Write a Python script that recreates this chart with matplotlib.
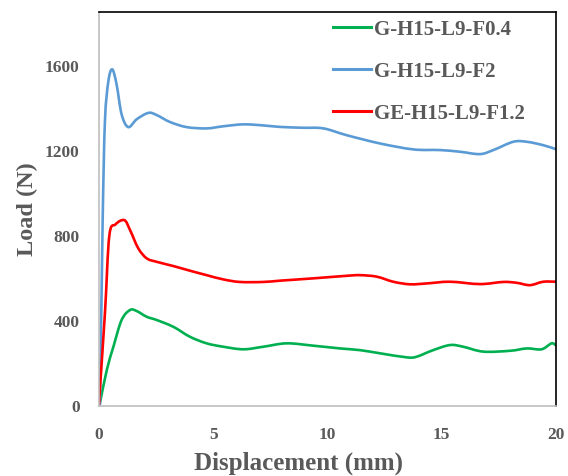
import matplotlib
matplotlib.use("Agg")
import matplotlib.pyplot as plt
from matplotlib.path import Path
from matplotlib.patches import PathPatch
from matplotlib.lines import Line2D

# Data (displacement mm, load N)
green_x = [0.0, 0.04, 0.34, 0.63, 0.99, 1.36, 1.65, 2.09, 2.52, 3.25, 3.98, 4.71, 5.44, 6.32, 7.19, 8.21,
           9.38, 10.55, 11.42, 12.3, 13.47, 13.9, 14.6, 15.36, 15.94, 16.82, 18.0, 18.72, 19.37, 19.81, 20.03]
green_y = [0, 14, 169, 279, 405, 452, 447, 420, 405, 373, 326, 295, 279, 267, 279, 295,
           284, 271, 263, 248, 229, 232, 262, 287, 279, 256, 260, 271, 267, 295, 282]

blue_x = [0.0, 0.04, 0.16, 0.26, 0.41, 0.58, 0.77, 0.99, 1.28, 1.65, 2.16, 2.52, 3.11, 3.84, 4.71, 5.44,
          6.32, 7.19, 7.92, 8.9, 9.82, 10.84, 12.3, 13.76, 14.92, 15.8, 16.67, 17.26, 18.13, 18.72, 19.44, 20.03]
blue_y = [0, 13, 872, 1341, 1529, 1585, 1514, 1373, 1313, 1350, 1380, 1370, 1337, 1313, 1307, 1317,
          1326, 1321, 1314, 1310, 1307, 1275, 1236, 1208, 1205, 1197, 1186, 1205, 1244, 1244, 1228, 1208]

red_x = [0.0, 0.01, 0.26, 0.45, 0.72, 1.11, 1.36, 1.72, 2.09, 2.52, 3.25, 3.98, 4.71, 5.44, 6.17,
         7.19, 7.92, 9.38, 10.84, 11.42, 12.15, 12.88, 13.61, 14.34, 15.36, 16.67, 17.69, 18.28, 18.86, 19.44, 20.03]
red_y = [30, 36, 437, 800, 855, 875, 828, 742, 695, 679, 659, 637, 616, 596, 584,
         584, 590, 601, 613, 616, 609, 585, 573, 577, 585, 574, 584, 580, 569, 585, 585]

labels = ["G-H15-L9-F0.4", "G-H15-L9-F2", "GE-H15-L9-F1.2"]
colors = ["#00B050", "#5B9BD5", "#FF0000"]
x_ticks = [0, 5, 10, 15, 20]
y_ticks = [0, 400, 800, 1200, 1600]


def smooth_path(ax, xs, ys):
    """Excel-style smoothed line: cubic Bezier segments through the data points,
    built in display space so the curve shape is scale independent."""
    pts = ax.transData.transform(list(zip(xs, ys)))
    n = len(pts)
    verts = [tuple(pts[0])]
    codes = [Path.MOVETO]
    t = 1.0 / 6.0
    for i in range(n - 1):
        p0 = pts[i - 1] if i > 0 else pts[i]
        p1 = pts[i]
        p2 = pts[i + 1]
        p3 = pts[i + 2] if i + 2 < n else pts[i + 1]
        c1 = p1 + (p2 - p0) * t
        c2 = p2 - (p3 - p1) * t
        verts += [tuple(c1), tuple(c2), tuple(p2)]
        codes += [Path.CURVE4, Path.CURVE4, Path.CURVE4]
    inv = ax.transData.inverted()
    return Path(inv.transform(verts), codes)


fig = plt.figure(figsize=(5.68, 4.76), dpi=100)
ax = fig.add_axes([99/568, 1-406/476, (556-99)/568, (406-12)/476])
ax.set_xlim(0, 20)
ax.set_ylim(0, 1855)

for xs, ys, c in [(green_x, green_y, colors[0]), (blue_x, blue_y, colors[1]), (red_x, red_y, colors[2])]:
    p = smooth_path(ax, xs, ys)
    ax.add_patch(PathPatch(p, facecolor="none", edgecolor=c, lw=1.9, capstyle="round", joinstyle="round"))

ax.set_xticks(x_ticks)
ax.set_yticks(y_ticks)
ax.tick_params(length=0, labelsize=12.5, labelcolor="#595959")
ax.tick_params(axis="y", pad=14)
ax.tick_params(axis="x", pad=15)
for t in ax.get_xticklabels() + ax.get_yticklabels():
    t.set_fontfamily("Liberation Serif")
    t.set_fontweight("bold")

for s in ["left", "bottom"]:
    ax.spines[s].set_color("#bfbfbf")
    ax.spines[s].set_linewidth(1.2)
for s in ["top", "right"]:
    ax.spines[s].set_color("black")
    ax.spines[s].set_linewidth(1.2)

ax.set_xlabel("Displacement (mm)", fontsize=18, fontweight="bold", color="#595959",
              family="Liberation Serif", labelpad=6)
ax.xaxis.set_label_coords((299 - 99) / 457, -0.15)
ax.xaxis.label.set_verticalalignment("center")
ax.xaxis.set_label_coords((299 - 99) / 457, -(463 - 406) / 394)
ax.set_ylabel("Load (N)", fontsize=17.5, fontweight="bold", color="#595959",
              family="Liberation Serif", labelpad=5)

handles = [Line2D([], [], color=c, lw=2.2) for c in colors]
leg = ax.legend(handles, labels, loc="upper left", bbox_to_anchor=(314/568, 1-1/476),
                bbox_transform=fig.transFigure,
                frameon=False, handlelength=1.85, handletextpad=0.12, labelspacing=1.05,
                prop={"family": "Liberation Serif", "weight": "bold", "size": 15})
for t in leg.get_texts():
    t.set_color("#595959")

fig.savefig("out.png", dpi=100)
